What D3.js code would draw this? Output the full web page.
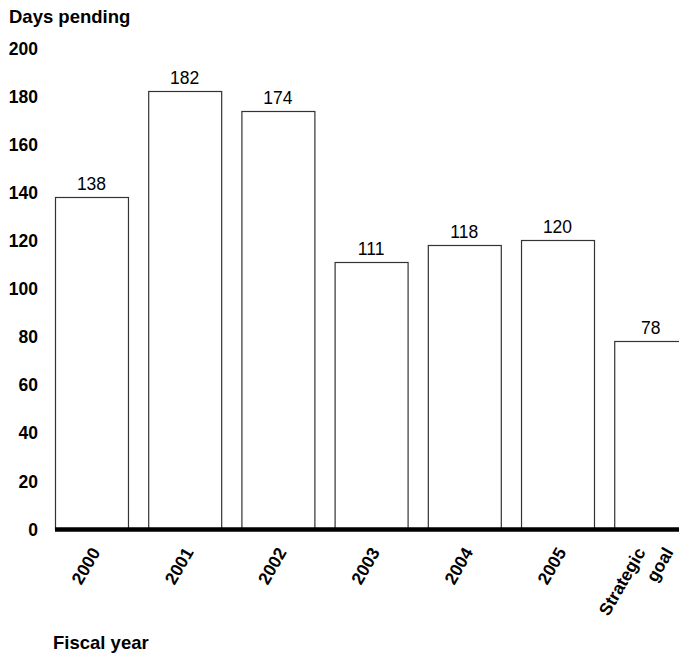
<!DOCTYPE html>
<html>
<head>
<meta charset="utf-8">
<script src="https://cdn.jsdelivr.net/npm/d3@7"></script>
<style>
  html, body { margin: 0; padding: 0; background: #fff; }
  svg { display: block; }
  text { font-family: "Liberation Sans", Arial, Helvetica, sans-serif; fill: #000; }
</style>
</head>
<body>
<svg id="chart" width="679" height="654"></svg>
<script>
// Average days pending by fiscal year, plus the strategic goal
const categories = ["2000", "2001", "2002", "2003", "2004", "2005", "Strategic\ngoal"];
const daysPending = [138, 182, 174, 111, 118, 120, 78];
const yTicks = [0, 20, 40, 60, 80, 100, 120, 140, 160, 180, 200];

const svg = d3.select("#chart");
const W = 679, H = 654;

const x = d3.scaleBand()
  .domain(categories)
  .range([55, 55 + 7 * 93.2 - 20.2])
  .paddingInner(0.217)
  .paddingOuter(0);

const y = d3.scaleLinear()
  .domain([0, 200])
  .range([529, 48]);

// Y axis: bold tick labels only, no line or tick marks
const yAxis = d3.axisLeft(y).tickValues(yTicks).tickSize(0).tickPadding(0);
const gy = svg.append("g").attr("transform", "translate(38,0)").call(yAxis);
gy.select(".domain").remove();
gy.selectAll("text")
  .attr("x", 0)
  .attr("dy", "0.35em")
  .style("font-size", "17.5px")
  .style("font-weight", "bold")
  .style("font-family", "'Liberation Sans', Arial, sans-serif")
  .attr("fill", "#000");

// Bars
svg.append("g").selectAll("rect")
  .data(daysPending)
  .join("rect")
  .attr("x", (d, i) => x(categories[i]) + 0.5)
  .attr("y", d => Math.round(y(d)) + 0.5)
  .attr("width", x.bandwidth())
  .attr("height", d => y(0) - Math.round(y(d)))
  .attr("fill", "#fff")
  .attr("stroke", "#333")
  .attr("stroke-width", 1.2);

// Value labels above bars
svg.append("g").selectAll("text")
  .data(daysPending)
  .join("text")
  .attr("x", (d, i) => x(categories[i]) + x.bandwidth() / 2)
  .attr("y", d => y(d) - 7)
  .attr("text-anchor", "middle")
  .style("font-size", "17.5px")
  .text(d => d);

// Thick baseline
svg.append("line")
  .attr("x1", 55).attr("x2", W)
  .attr("y1", y(0) + 0.5).attr("y2", y(0) + 0.5)
  .attr("stroke", "#000")
  .attr("stroke-width", 4.5);

// Rotated category labels
const lineGap = 28;
const xLabels = svg.append("g");
categories.forEach(c => {
  const lines = c.split("\n");
  const cx = x(c) + x.bandwidth() / 2 + 4;
  lines.forEach((ln, j) => {
    const px = cx + (j - (lines.length - 1) / 2) * lineGap;
    xLabels.append("text")
      .attr("transform", `translate(${px},549) rotate(-60)`)
      .attr("text-anchor", "end")
      .attr("dy", "0.35em")
      .style("font-size", "17.5px")
      .style("font-weight", "bold")
      .text(ln);
  });
});

// Axis titles
svg.append("text")
  .attr("x", 9).attr("y", 23)
  .style("font-size", "18.5px")
  .style("font-weight", "bold")
  .text("Days pending");

svg.append("text")
  .attr("x", 53).attr("y", 649)
  .style("font-size", "18.5px")
  .style("font-weight", "bold")
  .text("Fiscal year");
</script>
</body>
</html>
